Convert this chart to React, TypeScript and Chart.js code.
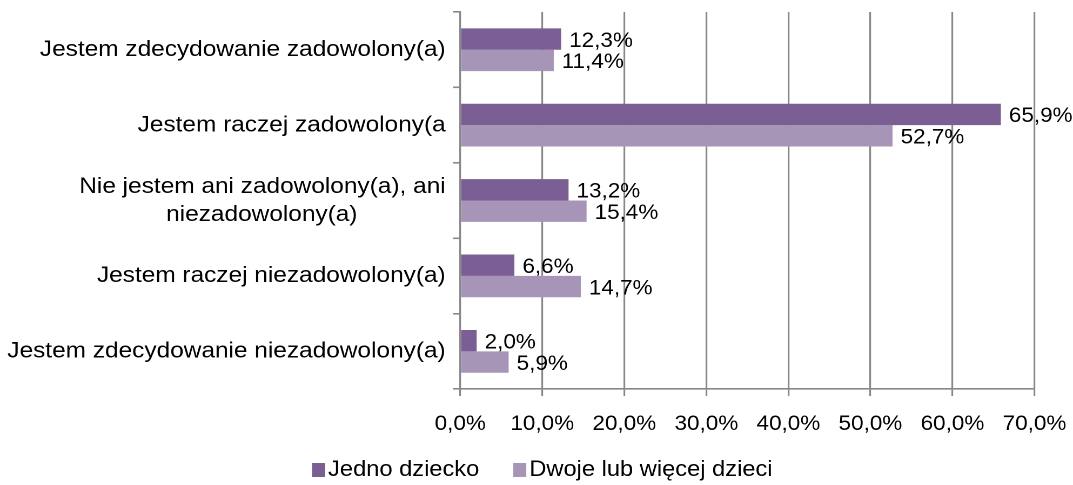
import React, { useEffect, useRef } from "react";
import { Chart, registerables } from "chart.js";

Chart.register(...registerables);

const categories: (string | string[])[] = [
  "Jestem zdecydowanie zadowolony(a)",
  "Jestem raczej zadowolony(a",
  ["Nie jestem ani zadowolony(a), ani", "niezadowolony(a)"],
  "Jestem raczej niezadowolony(a)",
  "Jestem zdecydowanie niezadowolony(a)",
];
const seriesNames = ["Jedno dziecko", "Dwoje lub więcej dzieci"];
const seriesColors = ["#7B5E93", "#A795B8"];
const jednoDziecko = [12.3, 65.9, 13.2, 6.6, 2.0];
const dwojeLubWiecej = [11.4, 52.7, 15.4, 14.7, 5.9];
const xTicks = [0, 10, 20, 30, 40, 50, 60, 70];

// the reference is horizontally stretched; draw narrower and stretch with CSS
const SX = 1.08;
const W = 1073 / SX;
const H = 485;

const FONT = "'Liberation Sans', Arial, sans-serif";
const NUM_SIZE = 20.8;
const CAT_SIZE = 22.6;
const LEG_SIZE = 21.9;
const fmt = (v: number) => v.toFixed(1).replace(".", ",") + "%";

const measureCtx = (() => {
  const c = document.createElement("canvas").getContext("2d") as any;
  c.font = `${CAT_SIZE}px ${FONT}`;
  return c;
})();

// centre the lines of a multi-line label against each other (axis is right-aligned)
const centreLines = (lines: string[]) => {
  const widths = lines.map((l) => measureCtx.measureText(l).width);
  const maxW = Math.max(...widths);
  const sp = measureCtx.measureText(" ").width || 6;
  return lines.map((l, i) => l + " ".repeat(Math.round((maxW - widths[i]) / 2 / sp)));
};

const labelPlugin = {
  id: "barLabels",
  afterDatasetsDraw(chart: any) {
    const ctx = chart.ctx;
    ctx.save();
    ctx.font = `${NUM_SIZE}px ${FONT}`;
    ctx.fillStyle = "#000";
    ctx.textAlign = "left";
    ctx.textBaseline = "middle";
    chart.data.datasets.forEach((ds: any, di: number) => {
      const meta = chart.getDatasetMeta(di);
      meta.data.forEach((el: any, i: number) => {
        ctx.fillText(fmt(ds.data[i]), el.x + 8 / SX, el.y + 2);
      });
    });
    ctx.restore();
  },
};

const legendPlugin = {
  id: "customLegend",
  afterDraw(chart: any) {
    const ctx = chart.ctx;
    ctx.save();
    ctx.font = `${LEG_SIZE}px ${FONT}`;
    ctx.textBaseline = "middle";
    ctx.textAlign = "left";
    const boxW = 13 / SX;
    const boxH = 14;
    const gap = 3 / SX;
    const itemGap = 34 / SX;
    const items = chart.data.datasets.map((ds: any) => ({
      text: ds.label,
      color: ds.backgroundColor,
      w: boxW + gap + ctx.measureText(ds.label).width,
    }));
    const total = items.reduce((a: number, it: any) => a + it.w, 0) + itemGap * (items.length - 1);
    let x = 542 / SX - total / 2;
    const cy = 470;
    items.forEach((it: any) => {
      ctx.fillStyle = it.color;
      ctx.fillRect(x, cy - boxH / 2, boxW, boxH);
      ctx.fillStyle = "#000";
      ctx.fillText(it.text, x + boxW + gap, cy);
      x += it.w + itemGap;
    });
    ctx.restore();
  },
};

export default function App() {
  const ref = useRef<HTMLCanvasElement>(null);
  useEffect(() => {
    if (!ref.current) return;
    const chart = new Chart(ref.current, {
      type: "bar",
      data: {
        labels: categories,
        datasets: [
          {
            label: seriesNames[0],
            data: jednoDziecko,
            backgroundColor: seriesColors[0],
            borderWidth: 0,
            categoryPercentage: 0.567,
            barPercentage: 1,
          },
          {
            label: seriesNames[1],
            data: dwojeLubWiecej,
            backgroundColor: seriesColors[1],
            borderWidth: 0,
            categoryPercentage: 0.567,
            barPercentage: 1,
          },
        ],
      },
      plugins: [labelPlugin, legendPlugin],
      options: {
        indexAxis: "y",
        animation: false,
        responsive: true,
        maintainAspectRatio: false,
        devicePixelRatio: 2,
        layout: { padding: { top: 12, right: W - 1034 / SX, left: 0, bottom: 33 } },
        plugins: {
          tooltip: { enabled: false },
          legend: { display: false },
        },
        scales: {
          x: {
            min: 0,
            max: 70,
            afterBuildTicks: (scale: any) => {
              scale.ticks = xTicks.map((v) => ({ value: v }));
            },
            afterFit: (scale: any) => {
              scale.paddingLeft = 0;
              scale.paddingRight = 0;
            },
            ticks: {
              callback: (v: any) => fmt(Number(v)),
              font: { family: FONT, size: NUM_SIZE },
              color: "#000",
              padding: 15.5,
              maxRotation: 0,
            },
            grid: {
              color: "#888",
              lineWidth: 1.6,
              drawTicks: true,
              tickLength: 7,
            },
            border: { color: "#888", width: 1.6 },
          },
          y: {
            offset: true,
            afterFit: (scale: any) => {
              scale.width = 460 / SX;
              scale.paddingTop = 0;
              scale.paddingBottom = 0;
            },
            ticks: {
              font: { family: FONT, size: CAT_SIZE, lineHeight: 28 / CAT_SIZE },
              color: "#000",
              padding: 7,
              crossAlign: "near",
              callback: (_v: any, i: number) => {
                const c = categories[i];
                return Array.isArray(c) ? centreLines(c) : c;
              },
            },
            grid: {
              offset: true,
              drawOnChartArea: false,
              drawTicks: true,
              tickLength: 6.5,
              color: "#888",
              lineWidth: 1.6,
            },
            border: { color: "#888", width: 1.6 },
          },
        },
      },
    } as any);
    return () => chart.destroy();
  }, []);
  return (
    <div
      style={{
        position: "fixed",
        left: 0,
        top: 0,
        width: W,
        height: H,
        transform: `scaleX(${SX})`,
        transformOrigin: "0 0",
      }}
    >
      <canvas ref={ref} />
    </div>
  );
}
